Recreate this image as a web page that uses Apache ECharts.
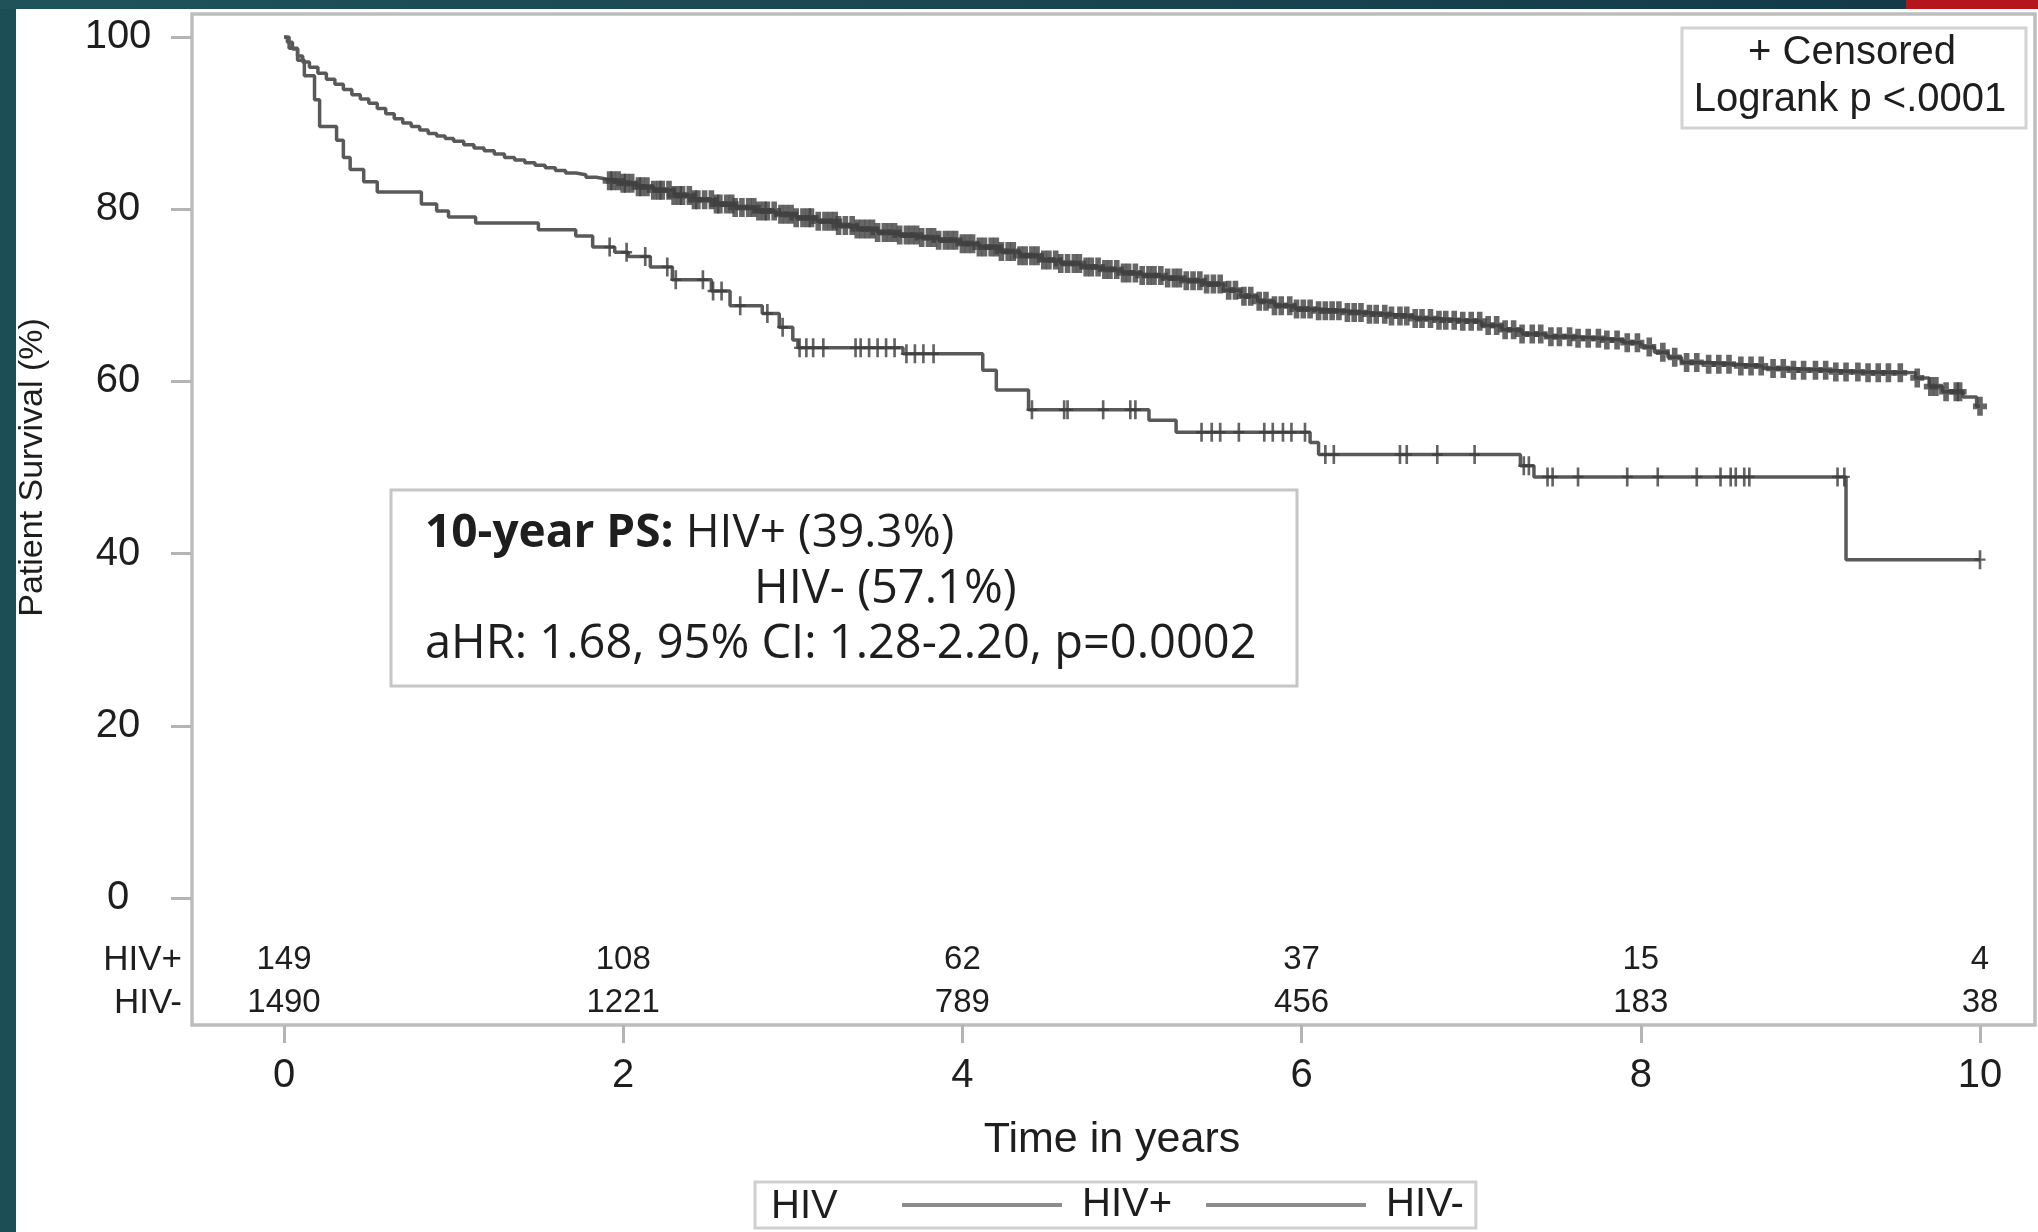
<!DOCTYPE html>
<html>
<head>
<meta charset="utf-8">
<script src="https://cdn.jsdelivr.net/npm/echarts@6/dist/echarts.min.js"></script>
<style>
html,body{margin:0;padding:0;background:#ffffff;}
#chart{width:2038px;height:1232px;}
</style>
</head>
<body>
<div id="chart"></div>
<script>
// ---------- data ----------
const timeTicks = [0, 2, 4, 6, 8, 10];
const survivalTicks = [0, 20, 40, 60, 80, 100];
const atRiskHivPos = [149, 108, 62, 37, 15, 4];
const atRiskHivNeg = [1490, 1221, 789, 456, 183, 38];

// HIV+ Kaplan-Meier steps (time in years, survival % after the step)
const hivPosTime = [0, 0.03, 0.08, 0.12, 0.18, 0.21, 0.31, 0.35, 0.39, 0.47, 0.55, 0.81, 0.9, 0.97, 1.13, 1.5, 1.72, 1.82, 1.95, 2.03, 2.16, 2.29, 2.52, 2.63, 2.82, 2.92, 3.0, 3.03, 3.65, 4.12, 4.2, 4.39, 5.1, 5.26, 6.05, 6.1, 7.29, 7.37, 9.21, 10.0];
const hivPosSurv = [100, 98.7, 97.3, 95.5, 92.7, 89.6, 88.0, 86.0, 84.6, 83.2, 82.0, 80.6, 79.8, 79.1, 78.4, 77.6, 76.9, 75.6, 75.0, 74.5, 73.3, 71.8, 70.5, 68.8, 67.9, 66.3, 64.8, 63.9, 63.2, 61.3, 59.0, 56.7, 55.5, 54.1, 52.9, 51.5, 50.2, 48.9, 39.3, 39.3];
const hivPosCensor = [1.92, 2.02, 2.13, 2.26, 2.31, 2.47, 2.53, 2.58, 2.69, 2.85, 2.94, 3.04, 3.08, 3.12, 3.18, 3.37, 3.4, 3.45, 3.5, 3.55, 3.6, 3.67, 3.72, 3.77, 3.83, 4.41, 4.6, 4.62, 4.83, 4.99, 5.02, 5.41, 5.47, 5.52, 5.63, 5.78, 5.83, 5.89, 5.94, 6.02, 6.14, 6.19, 6.58, 6.62, 6.8, 7.02, 7.31, 7.34, 7.45, 7.48, 7.63, 7.92, 8.1, 8.33, 8.47, 8.53, 8.56, 8.61, 8.64, 9.16, 9.2, 10.0];

// HIV- Kaplan-Meier steps
const hivNegTime = [0, 0.02, 0.05, 0.08, 0.11, 0.15, 0.2, 0.25, 0.3, 0.35, 0.4, 0.45, 0.5, 0.55, 0.6, 0.65, 0.7, 0.75, 0.8, 0.85, 0.9, 0.95, 1.0, 1.06, 1.12, 1.18, 1.24, 1.3, 1.36, 1.42, 1.48, 1.54, 1.6, 1.66, 1.72, 1.78, 1.84, 1.9, 1.98, 2.08, 2.18, 2.3, 2.42, 2.54, 2.66, 2.78, 2.9, 3.02, 3.14, 3.26, 3.38, 3.5, 3.62, 3.74, 3.86, 3.98, 4.1, 4.22, 4.34, 4.46, 4.58, 4.7, 4.82, 4.94, 5.06, 5.18, 5.3, 5.42, 5.54, 5.64, 5.74, 5.84, 5.96, 6.1, 6.24, 6.38, 6.52, 6.66, 6.8, 6.94, 7.06, 7.18, 7.3, 7.44, 7.6, 7.76, 7.9, 8.0, 8.08, 8.16, 8.24, 8.4, 8.56, 8.72, 8.9, 9.1, 9.3, 9.62, 9.7, 9.78, 9.9, 9.98, 10.0];
const hivNegSurv = [100, 99.4, 98.6, 97.8, 97.1, 96.5, 95.8, 95.1, 94.5, 93.9, 93.3, 92.8, 92.3, 91.7, 91.1, 90.5, 90.0, 89.6, 89.2, 88.8, 88.5, 88.2, 87.9, 87.5, 87.1, 86.8, 86.4, 86.0, 85.7, 85.4, 85.1, 84.8, 84.5, 84.2, 84.0, 83.7, 83.5, 83.3, 83.0, 82.6, 82.2, 81.6, 81.1, 80.6, 80.2, 79.8, 79.4, 79.0, 78.6, 78.1, 77.7, 77.3, 77.0, 76.7, 76.4, 76.0, 75.6, 75.1, 74.6, 74.1, 73.7, 73.3, 73.0, 72.6, 72.3, 72.0, 71.7, 71.3, 70.6, 69.9, 69.3, 68.8, 68.4, 68.2, 68.0, 67.8, 67.6, 67.3, 67.1, 67.0, 66.5, 66.0, 65.5, 65.2, 65.0, 64.8, 64.5, 64.0, 63.4, 62.8, 62.2, 62.0, 61.8, 61.5, 61.3, 61.1, 61.0, 60.4, 59.4, 58.8, 58.2, 57.1, 57.1];
const hivNegCensor = [1.92, 1.94, 1.97, 2.0, 2.02, 2.05, 2.09, 2.11, 2.14, 2.18, 2.21, 2.23, 2.27, 2.3, 2.33, 2.35, 2.39, 2.42, 2.44, 2.48, 2.52, 2.55, 2.57, 2.61, 2.64, 2.66, 2.7, 2.74, 2.77, 2.8, 2.83, 2.85, 2.89, 2.93, 2.96, 2.99, 3.02, 3.06, 3.09, 3.11, 3.15, 3.19, 3.22, 3.25, 3.27, 3.31, 3.35, 3.38, 3.41, 3.44, 3.47, 3.5, 3.54, 3.57, 3.6, 3.63, 3.67, 3.7, 3.73, 3.76, 3.8, 3.83, 3.86, 3.9, 3.93, 3.96, 4.0, 4.03, 4.06, 4.1, 4.13, 4.17, 4.2, 4.23, 4.27, 4.3, 4.34, 4.37, 4.41, 4.44, 4.48, 4.51, 4.55, 4.58, 4.62, 4.66, 4.69, 4.73, 4.76, 4.8, 4.84, 4.87, 4.91, 4.95, 4.98, 5.02, 5.06, 5.1, 5.13, 5.17, 5.21, 5.25, 5.28, 5.32, 5.36, 5.4, 5.44, 5.48, 5.52, 5.57, 5.61, 5.66, 5.7, 5.75, 5.79, 5.84, 5.88, 5.93, 5.97, 6.01, 6.05, 6.1, 6.14, 6.18, 6.22, 6.27, 6.31, 6.35, 6.4, 6.44, 6.49, 6.53, 6.58, 6.62, 6.67, 6.71, 6.76, 6.81, 6.85, 6.9, 6.95, 7.0, 7.05, 7.1, 7.15, 7.2, 7.25, 7.3, 7.36, 7.41, 7.47, 7.52, 7.58, 7.63, 7.69, 7.75, 7.8, 7.86, 7.92, 7.98, 8.05, 8.13, 8.2, 8.27, 8.33, 8.4, 8.46, 8.52, 8.59, 8.65, 8.71, 8.78, 8.84, 8.9, 8.96, 9.03, 9.09, 9.15, 9.21, 9.28, 9.34, 9.4, 9.46, 9.53, 9.63, 9.71, 9.74, 9.8, 9.86, 9.88, 10.0];

// ---------- helpers ----------
function pairs(ts, vs) { return ts.map((t, i) => [t, vs[i]]); }
// Kaplan-Meier: a censored subject sits on the survival value in effect at its time
function survAt(ts, vs, t) {
  let v = vs[0];
  for (let i = 0; i < ts.length; i++) { if (ts[i] <= t + 1e-9) v = vs[i]; else break; }
  return v;
}
function censorPoints(cs, ts, vs) { return cs.map(t => [t, survAt(ts, vs, t)]); }

const plusPath = 'path://M3.8,0H6.2V8.8H10V11.2H6.2V20H3.8V11.2H0V8.8H3.8Z';
const plusBoldPath = 'path://M3,0H7V7H10V13H7V20H3V13H0V7H3Z';
const LINE = '#595959';
const MARK = '#3c3c3c';
const TXT = '#1e1e1e';
const AX_FONT = 'Liberation Sans, Arial, sans-serif';
const BOX_FONT = 'Open Sans, Noto Sans, sans-serif';

const chart = echarts.init(document.getElementById('chart'), null, { renderer: 'canvas' });

function riskAxis(name, values, offset) {
  return {
    type: 'value', position: 'bottom', min: 0, max: 10, interval: 2, offset: offset,
    axisLine: { show: false, onZero: false }, axisTick: { show: false }, splitLine: { show: false },
    axisLabel: {
      margin: 0, verticalAlign: 'middle', showMinLabel: true, showMaxLabel: true,
      fontSize: 33, fontFamily: AX_FONT, color: TXT,
      formatter: v => { const i = timeTicks.indexOf(v); return i >= 0 ? String(values[i]) : ''; }
    },
    name: name, nameLocation: 'start', nameGap: 102,
    nameTextStyle: { fontSize: 35, fontFamily: AX_FONT, color: TXT }
  };
}

const option = {
  backgroundColor: '#ffffff',
  animation: false,
  grid: { left: 284, right: 58, top: 37, bottom: 334, containLabel: false, outerBoundsMode: 'none' },
  xAxis: [
    {
      type: 'value', position: 'bottom', min: 0, max: 10, interval: 2, offset: 127,
      axisLine: { show: false, onZero: false },
      axisTick: { show: true, length: 18, lineStyle: { color: '#b4b4b4', width: 3 } },
      splitLine: { show: false },
      axisLabel: { margin: 31, fontSize: 40, fontFamily: AX_FONT, color: TXT, showMinLabel: true, showMaxLabel: true },
      name: 'Time in years', nameLocation: 'middle', nameGap: 94,
      nameTextStyle: { fontSize: 43, fontFamily: AX_FONT, color: TXT, padding: [0, 40, 0, 0] }
    },
    riskAxis('HIV+', atRiskHivPos, 62),
    riskAxis('HIV-', atRiskHivNeg, 105)
  ],
  yAxis: {
    type: 'value', min: 0, max: 100, interval: 20, offset: 93,
    axisLine: { show: false, onZero: false },
    axisTick: { show: true, length: 20, lineStyle: { color: '#b4b4b4', width: 3 } },
    splitLine: { show: false },
    axisLabel: { margin: 73, align: 'center', fontSize: 40, fontFamily: AX_FONT, color: TXT },
    name: 'Patient Survival (%)', nameLocation: 'middle', nameGap: 141, nameRotate: 90,
    nameTextStyle: { fontSize: 34, fontFamily: AX_FONT, color: TXT }
  },
  legend: {
    data: [
      { name: 'HIV+', itemStyle: { color: '#8c8c8c' } },
      { name: 'HIV-', itemStyle: { color: '#8c8c8c' } }
    ],
    left: 755, top: 1182, orient: 'horizontal',
    padding: [2, 12, 2, 147],
    borderColor: '#cfcfcf', borderWidth: 3, backgroundColor: '#ffffff',
    icon: 'rect', itemWidth: 160, itemHeight: 4, itemGap: 34,
    selectedMode: false,
    textStyle: { fontSize: 40, fontFamily: AX_FONT, color: TXT, lineHeight: 42, padding: [0, 0, 0, 15] }
  },
  graphic: [
    { type: 'rect', z: -10, silent: true, shape: { x: 0, y: 0, width: 16, height: 1232 }, style: { fill: '#1c4e56' } },
    { type: 'rect', z: -10, silent: true, shape: { x: 0, y: 0, width: 1906, height: 9 },
      style: { fill: new echarts.graphic.LinearGradient(0, 0, 1, 0, [{ offset: 0, color: '#1f535a' }, { offset: 1, color: '#143a49' }]) } },
    { type: 'rect', z: -10, silent: true, shape: { x: 1906, y: 0, width: 132, height: 9 }, style: { fill: '#b3171b' } },
    { type: 'rect', z: -5, silent: true, shape: { x: 192, y: 14, width: 1843, height: 1011 }, style: { fill: 'none', stroke: '#bdbdbd', lineWidth: 3.5 } },
    // censored / logrank box
    { type: 'rect', z: 5, silent: true, shape: { x: 1682, y: 28, width: 344, height: 100 }, style: { fill: '#ffffff', stroke: '#d2d2d2', lineWidth: 3 } },
    { type: 'text', z: 6, silent: true, style: { x: 1852, y: 53, text: '+ Censored', align: 'center', verticalAlign: 'middle', font: '40px Liberation Sans, Arial, sans-serif', fill: TXT } },
    { type: 'text', z: 6, silent: true, style: { x: 1850, y: 100, text: 'Logrank p <.0001', align: 'center', verticalAlign: 'middle', font: '40px Liberation Sans, Arial, sans-serif', fill: TXT } },
    // summary box
    { type: 'rect', z: 5, silent: true, shape: { x: 391, y: 490, width: 906, height: 196 }, style: { fill: '#ffffff', stroke: '#c6c6c6', lineWidth: 3 } },
    { type: 'text', z: 6, silent: true, style: { x: 425, y: 534, text: '{b|10-year PS:} HIV+ (39.3%)', align: 'left', verticalAlign: 'middle',
        fontSize: 46, fontFamily: BOX_FONT, fill: TXT,
        rich: { b: { fontSize: 46, fontFamily: BOX_FONT, fontWeight: 'bold', fill: TXT } } } },
    { type: 'text', z: 6, silent: true, style: { x: 754, y: 590, text: 'HIV- (57.1%)', align: 'left', verticalAlign: 'middle', fontSize: 47, fontFamily: BOX_FONT, fill: TXT } },
    { type: 'text', z: 6, silent: true, style: { x: 425, y: 645, text: 'aHR: 1.68, 95% CI: 1.28-2.20, p=0.0002', align: 'left', verticalAlign: 'middle', fontSize: 47, fontFamily: BOX_FONT, fill: TXT } },
    // legend title
    { type: 'text', z: 20, silent: true, style: { x: 771, y: 1207, text: 'HIV', align: 'left', verticalAlign: 'middle', font: '40px Liberation Sans, Arial, sans-serif', fill: TXT } }
  ],
  series: [
    { name: 'HIV+', type: 'line', step: 'end', xAxisIndex: 0, data: pairs(hivPosTime, hivPosSurv),
      showSymbol: false, symbol: 'none', lineStyle: { color: LINE, width: 3.5 }, itemStyle: { color: LINE }, z: 3 },
    { name: 'HIV-', type: 'line', step: 'end', xAxisIndex: 0, data: pairs(hivNegTime, hivNegSurv),
      showSymbol: false, symbol: 'none', lineStyle: { color: LINE, width: 3.5 }, itemStyle: { color: LINE }, z: 3 },
    { name: 'HIV+ censored', type: 'scatter', xAxisIndex: 0, data: censorPoints(hivPosCensor, hivPosTime, hivPosSurv),
      symbol: plusPath, symbolSize: [11, 19], itemStyle: { color: MARK }, z: 4 },
    { name: 'HIV- censored', type: 'scatter', xAxisIndex: 0, data: censorPoints(hivNegCensor, hivNegTime, hivNegSurv),
      symbol: plusBoldPath, symbolSize: [14, 19], itemStyle: { color: '#404040' }, z: 4 }
  ]
};
chart.setOption(option);
</script>
</body>
</html>
